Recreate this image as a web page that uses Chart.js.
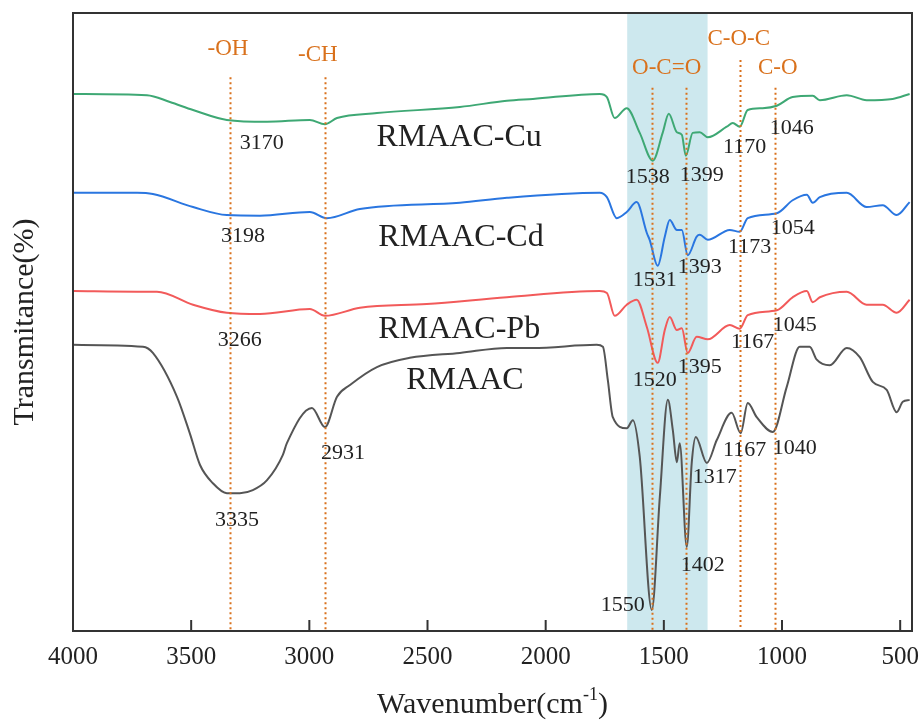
<!DOCTYPE html>
<html>
<head>
<meta charset="utf-8">
<script src="https://cdn.jsdelivr.net/npm/chart.js@4/dist/chart.umd.min.js"></script>
<style>
  html, body { margin: 0; padding: 0; background: #fff; }
  #wrap { width: 921px; height: 722px; }
</style>
</head>
<body>
<div id="wrap"><canvas id="ftirChart" width="921" height="722"></canvas></div>
<script>
// x axis ticks (wavenumber, cm-1)
const wavenumberTicks = [4000, 3500, 3000, 2500, 2000, 1500, 1000, 500];

// RMAAC-Cu
const cuWave = [4000, 3687, 3590, 3492, 3349, 3179, 2998, 2934, 2883, 2714, 2363, 2164, 2054, 1771, 1741, 1708, 1657, 1602, 1547, 1505, 1479, 1445, 1424, 1407, 1378, 1348, 1314, 1234, 1208, 1179, 1145, 1082, 1022, 955, 870, 840, 726, 642, 532, 460];
const cuT = [86.9, 86.7, 85.6, 84.3, 82.7, 82.4, 82.7, 82.0, 83.0, 83.8, 84.8, 85.8, 86.1, 86.9, 86.4, 83.0, 84.6, 80.6, 76.1, 80.6, 83.7, 80.7, 80.3, 76.9, 80.6, 80.7, 79.9, 81.6, 82.2, 81.6, 84.3, 84.6, 85.0, 86.4, 86.6, 85.9, 86.7, 85.9, 86.1, 86.9];

// RMAAC-Cd
const cdWave = [4000, 3729, 3662, 3492, 3349, 3209, 2998, 2926, 2786, 2363, 2164, 1771, 1741, 1699, 1657, 1615, 1572, 1560, 1526, 1496, 1475, 1445, 1424, 1399, 1361, 1348, 1314, 1221, 1179, 1145, 1022, 955, 895, 870, 840, 726, 642, 574, 515, 460];
const cdT = [70.9, 70.9, 70.7, 68.6, 67.3, 67.2, 67.8, 66.8, 68.3, 69.3, 70.1, 70.9, 70.2, 66.8, 67.8, 69.4, 64.4, 63.3, 59.1, 63.8, 66.5, 64.9, 64.9, 60.8, 63.8, 64.1, 63.3, 64.9, 64.6, 66.8, 67.6, 69.7, 70.6, 69.3, 70.2, 70.9, 68.6, 68.9, 67.3, 69.4];

// RMAAC-Pb
const pbWave = [4000, 3729, 3645, 3492, 3349, 3209, 2998, 2934, 2786, 2503, 2164, 1771, 1741, 1708, 1657, 1615, 1572, 1526, 1496, 1475, 1445, 1424, 1399, 1361, 1314, 1221, 1179, 1145, 1022, 955, 895, 870, 840, 726, 642, 574, 515, 460];
const pbT = [55.0, 54.9, 54.9, 52.8, 51.5, 51.3, 52.1, 51.0, 52.3, 52.9, 54.0, 55.0, 54.7, 51.0, 52.8, 53.6, 49.2, 43.4, 48.7, 50.8, 48.7, 49.0, 45.0, 47.6, 47.2, 49.5, 48.9, 51.1, 51.9, 54.0, 55.0, 53.2, 54.0, 54.9, 52.8, 52.8, 51.5, 53.6];

// RMAAC
const rmWave = [4000, 3704, 3662, 3560, 3505, 3463, 3408, 3349, 3294, 3239, 3179, 3112, 3095, 2989, 2934, 2883, 2828, 2714, 2575, 2363, 2164, 2054, 1784, 1758, 1737, 1716, 1657, 1631, 1602, 1551, 1517, 1483, 1462, 1445, 1433, 1403, 1382, 1365, 1318, 1276, 1213, 1175, 1145, 1107, 1039, 980, 925, 883, 853, 798, 726, 671, 616, 557, 515, 489, 460];
const rmT = [46.3, 46.0, 45.0, 37.9, 31.9, 26.9, 23.9, 22.3, 22.3, 22.8, 24.4, 28.5, 30.4, 36.1, 33.0, 37.9, 39.8, 42.7, 44.2, 45.0, 45.8, 45.8, 46.3, 46.0, 40.6, 34.6, 32.8, 34.1, 28.2, 3.4, 21.7, 37.4, 32.5, 27.3, 30.4, 13.6, 27.2, 31.4, 27.2, 30.9, 35.3, 32.0, 36.9, 34.6, 32.2, 39.5, 46.0, 46.0, 43.9, 43.0, 45.8, 44.3, 40.3, 39.0, 35.4, 37.1, 37.4];

// annotations (data units)
const shadeRange = [1655, 1315];
const guideX = [3336, 2932, 1551, 1405, 1179, 1028];
const guideTop = [89.6, 89.6, 87.9, 87.9, 92.4, 87.9];
const bandNames = ['-OH', '-CH', 'O-C=O', 'C-O-C', 'C-O'];
const bandX = [3344, 2964, 1488, 1183, 1018];
const bandY = [94.2, 93.2, 91.1, 95.8, 91.1];
const seriesNames = ['RMAAC-Cu', 'RMAAC-Cd', 'RMAAC-Pb', 'RMAAC'];
const seriesNameX = [2716, 2708, 2708, 2590];
const seriesNameY = [79.8, 63.6, 48.7, 40.5];
const peakText = ['3170', '3198', '3266', '2931', '3335', '1538', '1399', '1170', '1046', '1531', '1393', '1173', '1054', '1520', '1395', '1167', '1045', '1167', '1040', '1317', '1402', '1550'];
const peakX = [3201, 3281, 3294, 2858, 3306, 1568, 1340, 1158, 959, 1538, 1348, 1137, 955, 1538, 1348, 1124, 946, 1158, 946, 1285, 1335, 1674];
const peakY = [79.0, 63.8, 47.1, 28.8, 18.0, 73.5, 73.8, 78.3, 81.4, 56.8, 58.9, 62.1, 65.2, 40.6, 42.7, 46.8, 49.5, 29.3, 29.6, 24.9, 10.7, 4.2];

const serif = '"Liberation Serif", "Times New Roman", serif';
const orange = '#d9711c';

function toPoints(xs, ys) {
    return xs.map((x, i) => ({ x: x, y: ys[i] }));
}

// shaded O-C=O band behind the curves
const bandPlugin = {
    id: 'band',
    beforeDatasetsDraw(chart) {
        const { ctx, chartArea, scales } = chart;
        const x1 = scales.x.getPixelForValue(shadeRange[0]);
        const x2 = scales.x.getPixelForValue(shadeRange[1]);
        ctx.save();
        ctx.fillStyle = '#cde8ee';
        ctx.fillRect(x1, chartArea.top + 1, x2 - x1, chartArea.bottom - chartArea.top - 1);
        ctx.restore();
    }
};

// dotted guides, frame, inner ticks and all the texts
const decorPlugin = {
    id: 'decor',
    afterDatasetsDraw(chart) {
        const { ctx, chartArea, scales } = chart;
        const xs = scales.x, ys = scales.y;
        ctx.save();

        // dotted guide lines
        ctx.strokeStyle = orange;
        ctx.lineWidth = 2;
        ctx.setLineDash([2, 3]);
        guideX.forEach((w, i) => {
            const px = Math.round(xs.getPixelForValue(w)) + 0.5;
            ctx.beginPath();
            ctx.moveTo(px, ys.getPixelForValue(guideTop[i]));
            ctx.lineTo(px, chartArea.bottom);
            ctx.stroke();
        });
        ctx.setLineDash([]);

        // frame
        ctx.strokeStyle = '#333';
        ctx.lineWidth = 2;
        ctx.strokeRect(chartArea.left, chartArea.top, chartArea.right - chartArea.left, chartArea.bottom - chartArea.top);

        // inner ticks
        wavenumberTicks.forEach(v => {
            const px = xs.getPixelForValue(v);
            if (px < chartArea.left + 2) return;
            ctx.beginPath();
            ctx.moveTo(px, chartArea.bottom);
            ctx.lineTo(px, chartArea.bottom - 11);
            ctx.stroke();
        });

        ctx.textAlign = 'center';
        ctx.textBaseline = 'middle';

        // band names
        ctx.fillStyle = orange;
        ctx.font = '23px ' + serif;
        bandNames.forEach((t, i) => {
            ctx.fillText(t, xs.getPixelForValue(bandX[i]), ys.getPixelForValue(bandY[i]));
        });

        // peak positions
        ctx.fillStyle = '#222';
        ctx.font = '22px ' + serif;
        peakText.forEach((t, i) => {
            ctx.fillText(t, xs.getPixelForValue(peakX[i]), ys.getPixelForValue(peakY[i]));
        });

        // sample names
        ctx.textAlign = 'left';
        ctx.font = '32px ' + serif;
        seriesNames.forEach((t, i) => {
            ctx.fillText(t, xs.getPixelForValue(seriesNameX[i]), ys.getPixelForValue(seriesNameY[i]));
        });

        // y title
        ctx.save();
        ctx.translate(25, (chartArea.top + chartArea.bottom) / 2);
        ctx.rotate(-Math.PI / 2);
        ctx.textAlign = 'center';
        ctx.font = '30px ' + serif;
        ctx.fillText('Transmitance(%)', 0, 0);
        ctx.restore();

        // x title with superscript
        const main = 'Wavenumber(cm';
        const sup = '-1';
        const tail = ')';
        ctx.font = '30px ' + serif;
        const w1 = ctx.measureText(main).width;
        const w3 = ctx.measureText(tail).width;
        ctx.font = '18px ' + serif;
        const w2 = ctx.measureText(sup).width;
        let x0 = (chartArea.left + chartArea.right) / 2 - (w1 + w2 + w3) / 2;
        const ty = 705;
        ctx.textAlign = 'left';
        ctx.font = '30px ' + serif;
        ctx.fillText(main, x0, ty);
        ctx.font = '18px ' + serif;
        ctx.fillText(sup, x0 + w1, ty - 10);
        ctx.font = '30px ' + serif;
        ctx.fillText(tail, x0 + w1 + w2, ty);

        ctx.restore();
    }
};

const lineStyle = { borderWidth: 2, pointRadius: 0, fill: false, cubicInterpolationMode: 'monotone' };

const ftirChart = new Chart(document.getElementById('ftirChart').getContext('2d'), {
    type: 'line',
    data: {
        datasets: [
            Object.assign({ label: 'RMAAC-Cu', data: toPoints(cuWave, cuT), borderColor: '#3ea874' }, lineStyle),
            Object.assign({ label: 'RMAAC-Cd', data: toPoints(cdWave, cdT), borderColor: '#2a76e0' }, lineStyle),
            Object.assign({ label: 'RMAAC-Pb', data: toPoints(pbWave, pbT), borderColor: '#f25a5a' }, lineStyle),
            Object.assign({ label: 'RMAAC', data: toPoints(rmWave, rmT), borderColor: '#555555' }, lineStyle)
        ]
    },
    options: {
        responsive: false,
        animation: false,
        layout: { padding: { left: 73, top: 13, right: 9, bottom: 0 } },
        plugins: { legend: { display: false }, tooltip: { enabled: false } },
        scales: {
            x: {
                type: 'linear',
                reverse: true,
                min: 450,
                max: 4000,
                afterBuildTicks: s => { s.ticks = wavenumberTicks.map(v => ({ value: v })); },
                afterFit: s => { s.height = 91; s.paddingLeft = 0; s.paddingRight = 0; },
                grid: { display: false, drawTicks: false },
                border: { display: false },
                ticks: {
                    padding: 11,
                    color: '#222',
                    font: { family: serif, size: 25 },
                    maxRotation: 0,
                    autoSkip: false,
                    callback: v => String(v)
                }
            },
            y: {
                display: false,
                min: 0,
                max: 100
            }
        }
    },
    plugins: [bandPlugin, decorPlugin]
});
</script>
</body>
</html>
